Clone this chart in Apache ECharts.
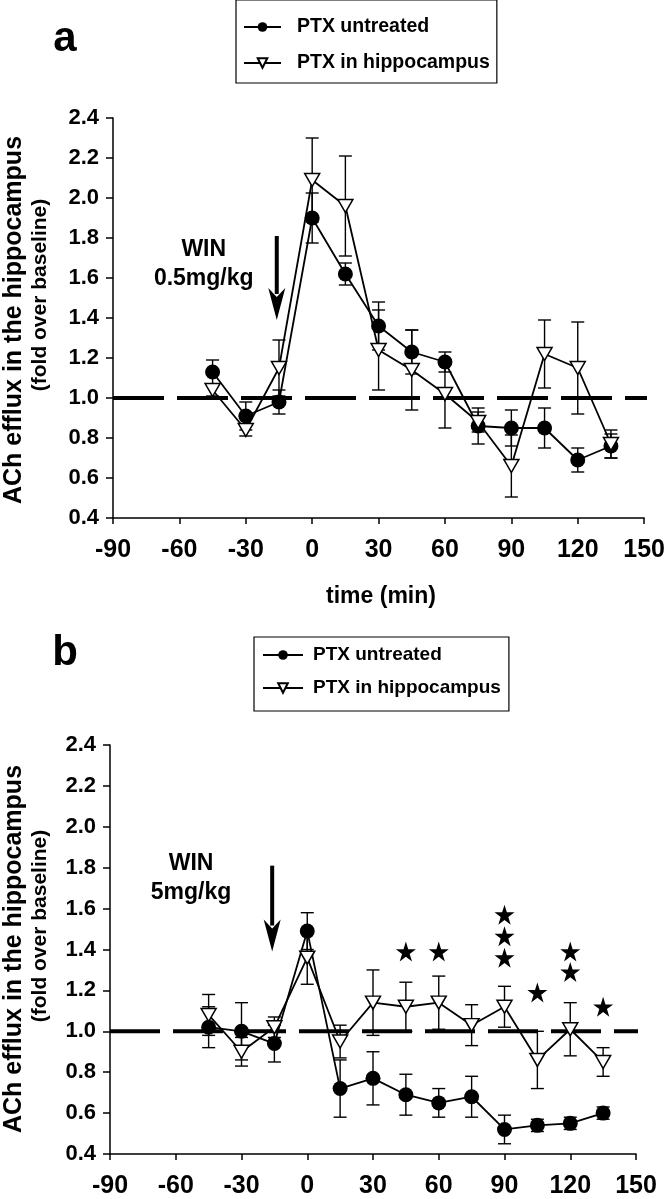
<!DOCTYPE html>
<html>
<head>
<meta charset="utf-8">
<script src="https://cdn.jsdelivr.net/npm/echarts@6/dist/echarts.min.js"></script>
<style>
html,body{margin:0;padding:0;background:#fff;}
#chart{width:668px;height:1199px;}
</style>
</head>
<body>
<div id="chart"></div>
<script>
// ---------------- data ----------------
const times = [-45, -30, -15, 0, 15, 30, 45, 60, 75, 90, 105, 120, 135];

const aUntreated    = [1.13, 0.91, 0.98, 1.90, 1.62, 1.36, 1.23, 1.18, 0.86, 0.85, 0.85, 0.69, 0.76];
const aUntreatedErr = [0.06, 0.07, 0.06, 0.125, 0.055, 0.12, 0.11, 0.05, 0.09, 0.09, 0.10, 0.06, 0.06];
const aHippo        = [1.04, 0.84, 1.15, 2.09, 1.96, 1.24, 1.14, 1.02, 0.88, 0.66, 1.22, 1.15, 0.77];
const aHippoErr     = [0.03, 0.03, 0.14, 0.21, 0.25, 0.20, 0.20, 0.17, 0.05, 0.155, 0.17, 0.23, 0.07];

const bUntreated    = [1.02, 1.00, 0.94, 1.49, 0.72, 0.77, 0.69, 0.65, 0.68, 0.52, 0.54, 0.55, 0.60];
const bUntreatedErr = [0.10, 0.14, 0.09, 0.09, 0.14, 0.13, 0.10, 0.07, 0.10, 0.07, 0.03, 0.03, 0.03];
const bHippo        = [1.08, 0.90, 1.02, 1.36, 0.95, 1.14, 1.12, 1.14, 1.03, 1.12, 0.86, 1.01, 0.85];
const bHippoErr     = [0.10, 0.07, 0.05, 0.13, 0.08, 0.16, 0.12, 0.13, 0.10, 0.10, 0.14, 0.13, 0.07];

// significance stars in panel b
const starTimes  = [45, 60, 90, 90, 90, 105, 120, 120, 135];
const starValues = [1.39, 1.39, 1.57, 1.465, 1.36, 1.19, 1.39, 1.29, 1.12];

// axes
const X_MIN = -90, X_MAX = 150, X_STEP = 30;
const Y_MIN = 0.4, Y_MAX = 2.4, Y_STEP = 0.2;
const BASELINE = 1.0;
const baselineSpan = [-90, 155];

const seriesNames = ['PTX untreated', 'PTX in hippocampus'];

// annotations (WIN injection)
const arrowTime = -16, arrowTop = 1.81, arrowTip = 1.39;
const aNotes = ['WIN', '0.5mg/kg'];
const aNoteTimes = [-49, -49];
const aNoteValues = [1.74, 1.595];
const bNotes = ['WIN', '5mg/kg'];
const bNoteTimes = [-53, -53];
const bNoteValues = [1.82, 1.68];

// ---------------- chart ----------------
const FONT = "'Liberation Sans', Arial, sans-serif";
const NARROW = "'Liberation Sans Narrow', 'Arial Narrow', 'Liberation Sans', sans-serif";

function pairs(xs, ys) { return xs.map((x, i) => [x, ys[i]]); }
function triples(xs, ys, es) { return xs.map((x, i) => [x, ys[i], es[i]]); }

function errRender(params, api) {
  const x = api.value(0), y = api.value(1), e = api.value(2);
  const top = api.coord([x, y + e]);
  const bot = api.coord([x, y - e]);
  const hw = 6.5;
  const st = { stroke: '#000', lineWidth: 1.4 };
  return {
    type: 'group',
    children: [
      { type: 'line', shape: { x1: top[0], y1: top[1], x2: bot[0], y2: bot[1] }, style: st },
      { type: 'line', shape: { x1: top[0] - hw, y1: top[1], x2: top[0] + hw, y2: top[1] }, style: st },
      { type: 'line', shape: { x1: bot[0] - hw, y1: bot[1], x2: bot[0] + hw, y2: bot[1] }, style: st }
    ]
  };
}

function arrowRender(params, api) {
  const x = api.value(0);
  const p1 = api.coord([x, api.value(1)]);
  const p2 = api.coord([x, api.value(2)]);
  const headL = 32, headW = 8.5;
  return {
    type: 'group',
    children: [
      { type: 'line', shape: { x1: p1[0], y1: p1[1], x2: p2[0], y2: p2[1] - headL + 6 },
        style: { stroke: '#000', lineWidth: 4 } },
      { type: 'polygon', shape: { points: [
          [p2[0], p2[1]],
          [p2[0] - headW, p2[1] - headL],
          [p2[0], p2[1] - headL + 9],
          [p2[0] + headW, p2[1] - headL]
        ] }, style: { fill: '#000' } }
    ]
  };
}

function noteRender(texts) {
  return function (params, api) {
    const pt = api.coord([api.value(0), api.value(1)]);
    return {
      type: 'text', x: pt[0], y: pt[1],
      style: { text: texts[params.dataIndex], fill: '#000', fontSize: 23, fontWeight: 'bold',
               fontFamily: FONT, align: 'center', verticalAlign: 'middle' }
    };
  };
}

function makeXAxis(gi) {
  return {
    gridIndex: gi, type: 'value', min: X_MIN, max: X_MAX, interval: X_STEP,
    axisLine: { show: true, onZero: false, lineStyle: { color: '#000', width: 1.5 } },
    axisTick: { show: true, inside: false, length: 6, lineStyle: { color: '#000', width: 1.5 } },
    splitLine: { show: false },
    axisLabel: { color: '#000', fontSize: 25, fontWeight: 'bold', fontFamily: NARROW, margin: 20 }
  };
}
function makeYAxis(gi) {
  return {
    gridIndex: gi, type: 'value', min: Y_MIN, max: Y_MAX, interval: Y_STEP,
    axisLine: { show: true, onZero: false, lineStyle: { color: '#000', width: 1.5 } },
    axisTick: { show: true, inside: false, length: 7, lineStyle: { color: '#000', width: 1.5 } },
    splitLine: { show: false },
    axisLabel: { color: '#000', fontSize: 22, fontWeight: 'bold', fontFamily: FONT, margin: 14,
                 formatter: v => v.toFixed(1) }
  };
}

function panelSeries(gi, unt, untErr, hip, hipErr) {
  return [
    { type: 'line', xAxisIndex: gi, yAxisIndex: gi, data: [[baselineSpan[0], BASELINE], [baselineSpan[1], BASELINE]],
      symbol: 'none', clip: false, silent: true, z: 1,
      lineStyle: { color: '#000', width: 4, type: gi === 0 ? [51, 13] : [50, 13], cap: 'butt' } },
    { type: 'custom', xAxisIndex: gi, yAxisIndex: gi, renderItem: errRender, z: 2, silent: true,
      data: triples(times, unt, untErr), encode: { x: 0, y: 1 } },
    { type: 'custom', xAxisIndex: gi, yAxisIndex: gi, renderItem: errRender, z: 2, silent: true,
      data: triples(times, hip, hipErr), encode: { x: 0, y: 1 } },
    { type: 'line', name: seriesNames[0], xAxisIndex: gi, yAxisIndex: gi, z: 3,
      data: pairs(times, unt), symbol: 'circle', symbolSize: 15,
      itemStyle: { color: '#000' }, lineStyle: { color: '#000', width: 1.8 } },
    { type: 'line', name: seriesNames[1], xAxisIndex: gi, yAxisIndex: gi, z: 4,
      data: pairs(times, hip), symbol: 'triangle', symbolRotate: 180, symbolSize: [15, 13],
      itemStyle: { color: '#fff', borderColor: '#000', borderWidth: 1.5 },
      lineStyle: { color: '#000', width: 1.8 } },
    { type: 'custom', xAxisIndex: gi, yAxisIndex: gi, renderItem: arrowRender, z: 5, silent: true,
      data: [[arrowTime, arrowTop, arrowTip]], encode: { x: 0, y: 1 } }
  ];
}

const chart = echarts.init(document.getElementById('chart'), null, { renderer: 'canvas' });

const yTitle = (x, y, text, size) => ({
  type: 'text', x: x, y: y, rotation: Math.PI / 2,
  style: { text: text, fill: '#000', fontSize: size, fontWeight: 'bold', fontFamily: FONT,
           align: 'center', verticalAlign: 'middle', textAlign: 'center', textVerticalAlign: 'middle' }
});
const plainText = (x, y, text, size) => ({
  type: 'text', x: x, y: y,
  style: { text: text, fill: '#000', fontSize: size, fontWeight: 'bold', fontFamily: FONT,
           align: 'center', verticalAlign: 'middle', textAlign: 'center', textVerticalAlign: 'middle' }
});

const option = {
  animation: false,
  backgroundColor: '#fff',
  grid: [
    { left: 113, top: 118, width: 534, height: 400 },
    { left: 110, top: 745, width: 526, height: 409 }
  ],
  xAxis: [makeXAxis(0), makeXAxis(1)],
  yAxis: [makeYAxis(0), makeYAxis(1)],
  legend: [
    { left: 236, top: 0, orient: 'vertical', data: seriesNames, selectedMode: false,
      borderColor: '#000', borderWidth: 1.2, padding: [14, 7, 7, 7],
      itemWidth: 37, itemHeight: 12, itemGap: 10,
      textStyle: { fontSize: 19.5, fontWeight: 'bold', color: '#000', fontFamily: FONT,
                   lineHeight: 26, padding: [0, 0, 0, 11] } },
    { left: 254, top: 637, orient: 'vertical', data: seriesNames, selectedMode: false,
      borderColor: '#000', borderWidth: 1.2, padding: [5, 8, 10, 8],
      itemWidth: 40, itemHeight: 12, itemGap: 7,
      textStyle: { fontSize: 19, fontWeight: 'bold', color: '#000', fontFamily: FONT,
                   lineHeight: 26, padding: [0, 0, 0, 5] } }
  ],
  graphic: [
    plainText(65, 39, 'a', 42),
    plainText(65, 653, 'b', 42),
    yTitle(14, 320, 'ACh efflux in the hippocampus', 25),
    yTitle(40, 295, '(fold over baseline)', 21),
    yTitle(14, 949, 'ACh efflux in the hippocampus', 25),
    yTitle(40, 926, '(fold over baseline)', 21),
    plainText(381, 597, 'time (min)', 23)
  ],
  series: [
    ...panelSeries(0, aUntreated, aUntreatedErr, aHippo, aHippoErr),
    ...panelSeries(1, bUntreated, bUntreatedErr, bHippo, bHippoErr),
    { type: 'custom', xAxisIndex: 0, yAxisIndex: 0, renderItem: noteRender(aNotes), silent: true, z: 5,
      data: pairs(aNoteTimes, aNoteValues), encode: { x: 0, y: 1 } },
    { type: 'custom', xAxisIndex: 1, yAxisIndex: 1, renderItem: noteRender(bNotes), silent: true, z: 5,
      data: pairs(bNoteTimes, bNoteValues), encode: { x: 0, y: 1 } },
    { type: 'scatter', xAxisIndex: 1, yAxisIndex: 1, silent: true, z: 6,
      data: pairs(starTimes, starValues),
      symbol: 'path://M50,0 L61.2,34.5 L97.6,34.5 L68.2,55.9 L79.4,90.5 L50,69.1 L20.6,90.5 L31.8,55.9 L2.4,34.5 L38.8,34.5 Z',
      symbolSize: 20, itemStyle: { color: '#000', opacity: 1 } }
  ]
};
chart.setOption(option);
</script>
</body>
</html>
